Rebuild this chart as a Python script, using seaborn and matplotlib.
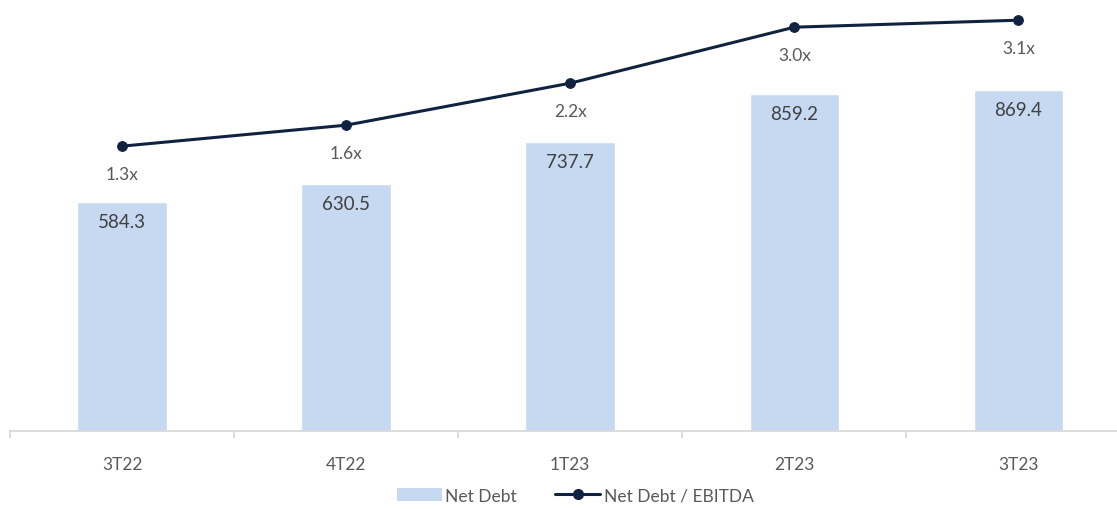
import numpy as np
import pandas as pd
import matplotlib.pyplot as plt
import seaborn as sns
from matplotlib.patches import Patch
from matplotlib.lines import Line2D

# Dados
quarters = ['3T22', '4T22', '1T23', '2T23', '3T23']
net_debt = [584.3, 630.5, 737.7, 859.2, 869.4]
leverage = [1.3, 1.6, 2.2, 3.0, 3.1]

bar_color = '#C6D9F1'
line_color = '#0F2341'
text_color = '#595959'
axis_color = '#D9D9D9'

sns.set_style('white')
plt.rcParams['font.family'] = ['Lato', 'DejaVu Sans']

df = pd.DataFrame({'quarter': quarters, 'net_debt': net_debt, 'leverage': leverage})
pos = np.arange(len(quarters))

fig = plt.figure(figsize=(11.17, 5.10), dpi=100)
ax = fig.add_axes([0.009, 0.153, 0.991, 0.837])

sns.barplot(data=df, x='quarter', y='net_debt', color=bar_color, width=0.4,
            saturation=1, ax=ax)
ax.set_xlim(-0.5, 4.44)
ax.set_ylim(0, 1089)

for x, v in zip(pos, net_debt):
    ax.annotate(f'{v:.1f}', (x, v), xytext=(0, -14), textcoords='offset points',
                ha='center', va='center', fontsize=13.5, color='#404040')

# Eixo secundário para a alavancagem
ax2 = ax.twinx()
sns.lineplot(x=pos, y=leverage, color=line_color, marker='o', markersize=7,
             markeredgecolor=line_color, linewidth=2.2, ax=ax2)
ax2.set_ylim(-2.77, 3.33)
for x, v in zip(pos, leverage):
    ax2.annotate(f'{v:.1f}x', (x, v), xytext=(0, -20), textcoords='offset points',
                 ha='center', va='center', fontsize=12.5, color=text_color)

for a in (ax, ax2):
    for s in ['top', 'right', 'left']:
        a.spines[s].set_visible(False)
    a.set_yticks([])
    a.set_ylabel('')
ax2.spines['bottom'].set_visible(False)
ax.spines['bottom'].set_color(axis_color)
ax.spines['bottom'].set_linewidth(1.3)

ax.set_xlabel('')
ax.set_xticks(pos)
ax.set_xticklabels(quarters)
ax.set_xticks(np.arange(-0.5, 4.5, 1), minor=True)
ax.tick_params(axis='x', which='major', bottom=True, length=0, pad=18,
               labelsize=12.5, labelcolor=text_color)
ax.tick_params(axis='x', which='minor', bottom=True, length=5, width=1.3,
               color=axis_color, direction='out')

handles = [Patch(facecolor=bar_color, edgecolor='none'),
           Line2D([0], [0], color=line_color, lw=2.2, marker='o', markersize=7)]
fig.legend(handles, ['Net Debt', 'Net Debt / EBITDA'], loc='lower center',
           bbox_to_anchor=(0.515, -0.02), ncol=2, frameon=False, fontsize=12.5,
           handlelength=2.6, handletextpad=0.2, columnspacing=2.2, labelcolor=text_color)

fig.savefig('out.png', dpi=100)
